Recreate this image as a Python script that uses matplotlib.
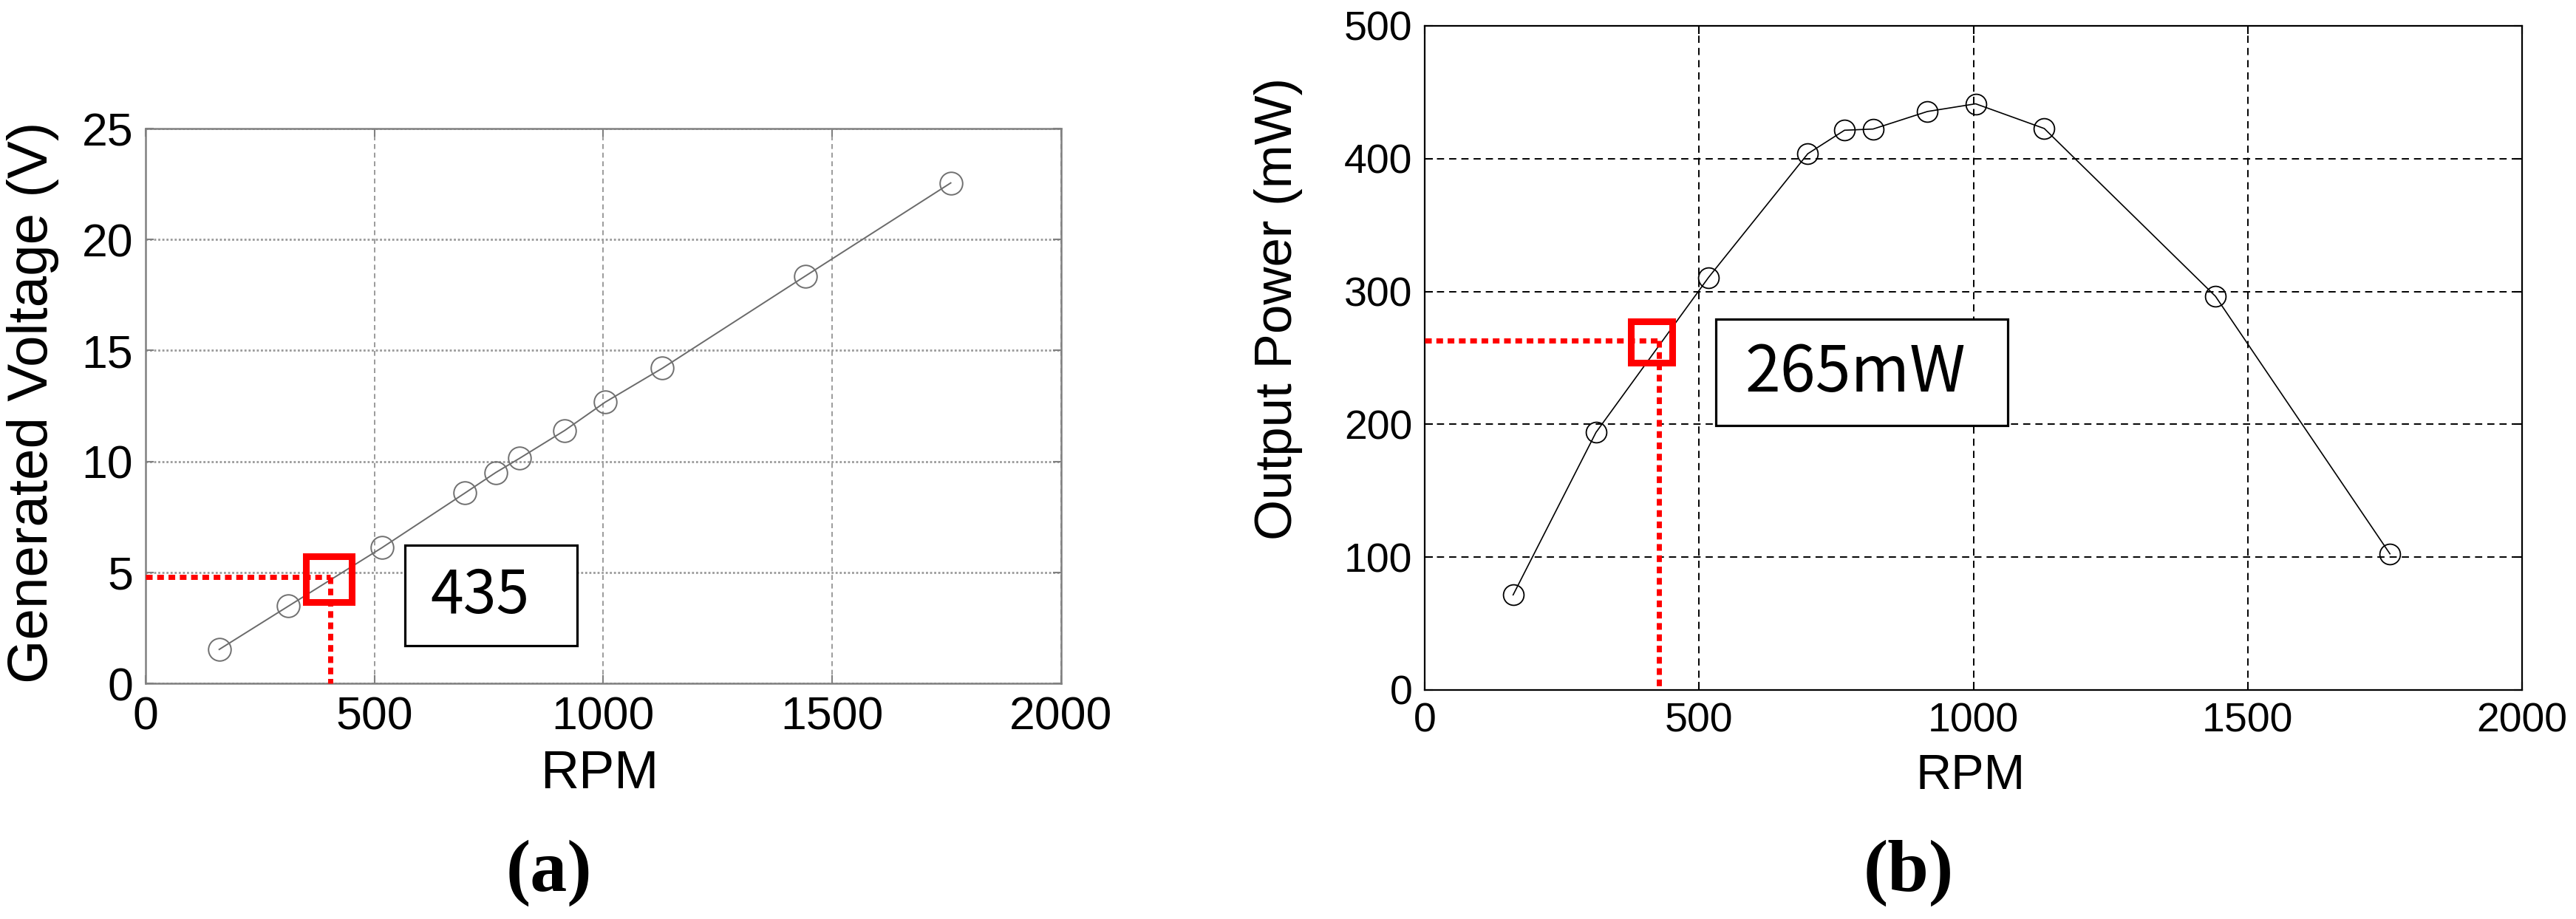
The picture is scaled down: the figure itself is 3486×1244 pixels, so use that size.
import matplotlib
matplotlib.use("Agg")
import matplotlib.pyplot as plt
from matplotlib.patches import Rectangle

plt.rcParams['font.family'] = ['Liberation Sans', 'DejaVu Sans']

# measured points (same RPM settings for both panels)
rpm = [161, 312, 517, 698, 765, 817, 916, 1004, 1129, 1441, 1759]
voltage = [1.53, 3.48, 6.12, 8.58, 9.50, 10.14, 11.40, 12.67, 14.20, 18.35, 22.55]
power = [71.6, 193.9, 310.5, 403.7, 421.4, 422.3, 435.5, 441.3, 422.7, 296.4, 102.5]

x_ticks = [0, 500, 1000, 1500, 2000]
v_ticks = [0, 5, 10, 15, 20, 25]
p_ticks = [0, 100, 200, 300, 400, 500]

# highlighted operating point in each panel
op_rpm_a, op_v = 403, 4.79
sq_a = (400, 4.69)
op_rpm_b, op_p = 427, 263
sq_b = (413, 262)
label_a = "435"
label_b = "265mW"

fig = plt.figure(figsize=(34.86, 12.44), dpi=100)

# ---------- (a) generated voltage ----------
ax1 = fig.add_axes([0.0565, 0.2564, 0.3554, 0.6037])
ax1.plot(rpm, voltage, color='#6a6a6a', lw=1.4, marker='o', ms=22,
         mfc='none', mec='#707070', mew=1.4, zorder=3)
ax1.set_xlim(0, 2000)
ax1.set_ylim(0, 25)
ax1.set_xticks(x_ticks)
ax1.set_yticks(v_ticks)
ax1.yaxis.grid(True, color='#9a9a9a', lw=2.0, ls=(0, (1, 1)))
ax1.xaxis.grid(True, color='#8a8a8a', lw=1.2, ls=(0, (4, 3)))
ax1.tick_params(direction='in', length=8, width=1.5, color='#808080',
                labelsize=45, top=True, right=True, pad=12)
for s in ax1.spines.values():
    s.set_color('#808080')
    s.set_linewidth(1.8)
ax1.set_xlabel('RPM', fontsize=52, va='center')
ax1.set_ylabel('Generated Voltage (V)', fontsize=55, va='center')
ax1.xaxis.set_label_coords(0.4956, -0.165)
ax1.yaxis.set_label_coords(-0.1227, 0.506)

ax1.plot([0, op_rpm_a], [op_v, op_v], color='#ff0000', lw=5,
         ls=(0, (1.3, 0.9)), zorder=4)
ax1.plot([op_rpm_a, op_rpm_a], [op_v, 0], color='#ff0000', lw=5,
         ls=(0, (1.3, 0.9)), zorder=4, clip_on=False)
ax1.plot([sq_a[0]], [sq_a[1]], marker='s', ms=44, mfc='none', mec='#ff0000',
         mew=6.5, zorder=5)
ax1.add_patch(Rectangle((567, 1.70), 376, 4.52, fc='white', ec='black',
                        lw=2.3, zorder=4))
ax1.text(730, 3.93, label_a, fontsize=58, ha='center', va='center',
         family=['Noto Sans CJK KR', 'DejaVu Sans'], zorder=6)

# ---------- (b) output power ----------
ax2 = fig.add_axes([0.5531, 0.2492, 0.4260, 0.7227])
ax2.plot(rpm, power, color='black', lw=1.2, marker='o', ms=20,
         mfc='none', mec='black', mew=1.3, zorder=3)
ax2.set_xlim(0, 2000)
ax2.set_ylim(0, 500)
ax2.set_xticks(x_ticks)
ax2.set_yticks(p_ticks)
ax2.grid(True, color='black', lw=1.4, ls=(0, (5, 3.5)))
ax2.tick_params(direction='in', length=8, width=1.5, color='black',
                labelsize=40, top=True, right=True, pad=12)
for s in ax2.spines.values():
    s.set_color('black')
    s.set_linewidth(1.6)
ax2.set_xlabel('RPM', fontsize=48, va='center')
ax2.set_ylabel('Output Power (mW)', fontsize=51, va='center')
ax2.xaxis.set_label_coords(0.497, -0.130)
ax2.yaxis.set_label_coords(-0.1333, 0.574)

ax2.plot([0, op_rpm_b], [op_p, op_p], color='#ff0000', lw=5,
         ls=(0, (1.3, 0.9)), zorder=4)
ax2.plot([op_rpm_b, op_rpm_b], [op_p, 0], color='#ff0000', lw=5,
         ls=(0, (1.3, 0.9)), zorder=4, clip_on=False)
ax2.plot([sq_b[0]], [sq_b[1]], marker='s', ms=40, mfc='none', mec='#ff0000',
         mew=6.5, zorder=5)
ax2.add_patch(Rectangle((531, 199), 532, 80, fc='white', ec='black',
                        lw=2.3, zorder=4))
ax2.text(785, 238, label_b, fontsize=62, ha='center', va='center',
         family=['Noto Sans CJK KR', 'DejaVu Sans'], zorder=6)

# panel letters
fig.text(743 / 3486, 1 - 1182 / 1244, '(a)', fontsize=72, fontweight='bold',
         family=['Liberation Serif', 'DejaVu Serif'], ha='center', va='center')
fig.text(2583 / 3486, 1 - 1182 / 1244, '(b)', fontsize=72, fontweight='bold',
         family=['Liberation Serif', 'DejaVu Serif'], ha='center', va='center')

fig.savefig('out.png', dpi=100, facecolor='white')
